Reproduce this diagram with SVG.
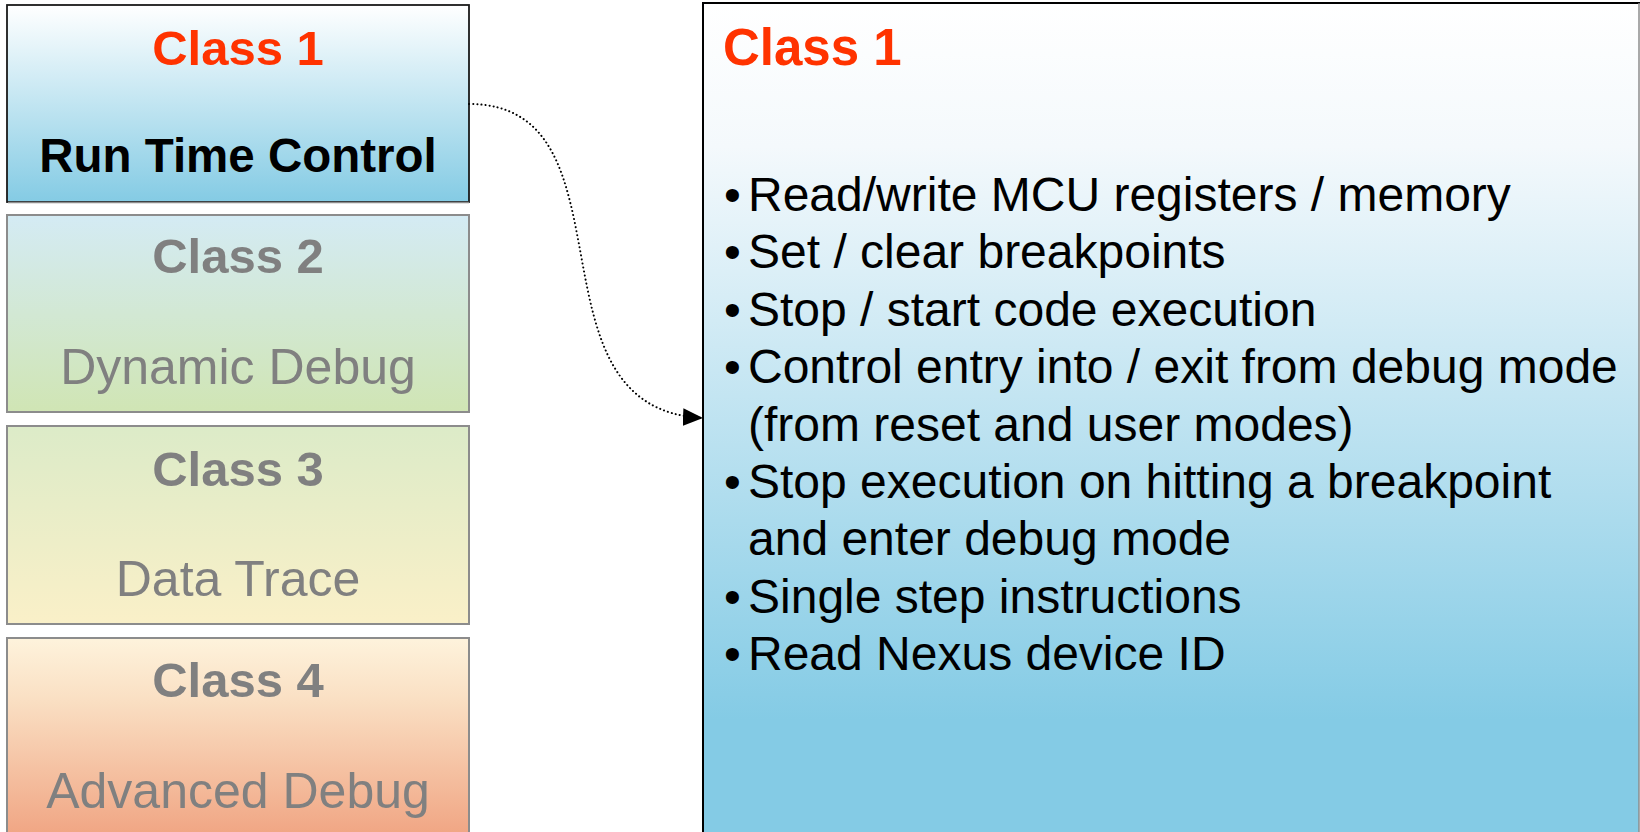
<svg xmlns="http://www.w3.org/2000/svg" width="1640" height="832" viewBox="0 0 1640 832">
<style>
.b{font-family:"Liberation Sans",Arial,sans-serif;font-weight:bold}
.r{font-family:"Liberation Sans",Arial,sans-serif}
.red{fill:#FF3300}
.gray{fill:#808080}
.gbox{stroke:#8C8C8C;stroke-width:2}
.item{font-family:"Liberation Sans",Arial,sans-serif;font-size:48px;fill:#000}
</style>
<defs>
<linearGradient id="g1" x1="0" y1="0" x2="0" y2="1"><stop offset="0" stop-color="#FFFFFF"/><stop offset="1" stop-color="#84CBE4"/></linearGradient>
<linearGradient id="g2" x1="0" y1="0" x2="0" y2="1"><stop offset="0" stop-color="#D4EBF4"/><stop offset="1" stop-color="#D0E5B4"/></linearGradient>
<linearGradient id="g3" x1="0" y1="0" x2="0" y2="1"><stop offset="0" stop-color="#DCEBC8"/><stop offset="1" stop-color="#FAF0C8"/></linearGradient>
<linearGradient id="g4" x1="0" y1="0" x2="0" y2="1"><stop offset="0" stop-color="#FEF3DC"/><stop offset="0.3" stop-color="#FAE0C4"/><stop offset="1" stop-color="#F0A482"/></linearGradient>
<linearGradient id="gp" gradientUnits="userSpaceOnUse" x1="0" y1="3" x2="0" y2="720"><stop offset="0" stop-color="#FFFFFF"/><stop offset="0.2" stop-color="#F4F9FC"/><stop offset="1" stop-color="#84CBE5"/></linearGradient>
<marker id="ah" markerUnits="userSpaceOnUse" markerWidth="20" markerHeight="20" viewBox="0 0 18 16" refX="18" refY="8" orient="auto"><path d="M0,0 L18,8 L0,16 Z" fill="#000"/></marker>
</defs>
<g id="class1">
<rect x="7" y="5" width="462" height="197" fill="url(#g1)" stroke="#1A1A1A" stroke-width="1.8"/>
<line x1="8" y1="202.5" x2="469" y2="202.5" stroke="#8C8C8C" stroke-width="1.5"/>
<text class="b red" x="238" y="65" font-size="49" text-anchor="middle">Class 1</text>
<text class="b" x="238" y="172" font-size="47.5" text-anchor="middle" fill="#000">Run Time Control</text>
</g>
<g id="class2">
<rect class="gbox" x="7" y="215" width="462" height="197" fill="url(#g2)"/>
<text class="b gray" x="238" y="273" font-size="49" text-anchor="middle">Class 2</text>
<text class="r gray" x="238" y="384" font-size="50" text-anchor="middle">Dynamic Debug</text>
</g>
<g id="class3">
<rect class="gbox" x="7" y="426" width="462" height="198" fill="url(#g3)"/>
<text class="b gray" x="238" y="486" font-size="49" text-anchor="middle">Class 3</text>
<text class="r gray" x="238" y="596" font-size="50" text-anchor="middle">Data Trace</text>
</g>
<g id="class4">
<rect class="gbox" x="7" y="638" width="462" height="200" fill="url(#g4)"/>
<text class="b gray" x="238" y="697" font-size="49" text-anchor="middle">Class 4</text>
<text class="r gray" x="238" y="808" font-size="50" text-anchor="middle">Advanced Debug</text>
</g>
<g id="detail">
<rect x="703" y="3" width="936" height="840" fill="url(#gp)" stroke="none"/>
<line x1="703" y1="2" x2="703" y2="832" stroke="#000" stroke-width="2"/>
<line x1="702" y1="3" x2="1640" y2="3" stroke="#000" stroke-width="2"/>
<line x1="1639" y1="3" x2="1639" y2="832" stroke="#8C8C8C" stroke-width="1.5"/>
<text class="b red" x="723" y="65" font-size="51">Class 1</text>
<g class="item">
<text x="724" y="211">•</text><text x="748" y="211">Read/write MCU registers / memory</text>
<text x="724" y="268.4">•</text><text x="748" y="268.4">Set / clear breakpoints</text>
<text x="724" y="325.8">•</text><text x="748" y="325.8">Stop / start code execution</text>
<text x="724" y="383.2">•</text><text x="748" y="383.2">Control entry into / exit from debug mode</text>
<text x="748" y="440.6">(from reset and user modes)</text>
<text x="724" y="498">•</text><text x="748" y="498">Stop execution on hitting a breakpoint</text>
<text x="748" y="555.4">and enter debug mode</text>
<text x="724" y="612.8">•</text><text x="748" y="612.8">Single step instructions</text>
<text x="724" y="670.2">•</text><text x="748" y="670.2">Read Nexus device ID</text>
</g>
</g>
<g id="connectors">
<path d="M469,104 C640,104 520,410 703,418" fill="none" stroke="#000" stroke-width="2" stroke-dasharray="0.1 4" stroke-linecap="round" marker-end="url(#ah)"/>
</g>
</svg>
